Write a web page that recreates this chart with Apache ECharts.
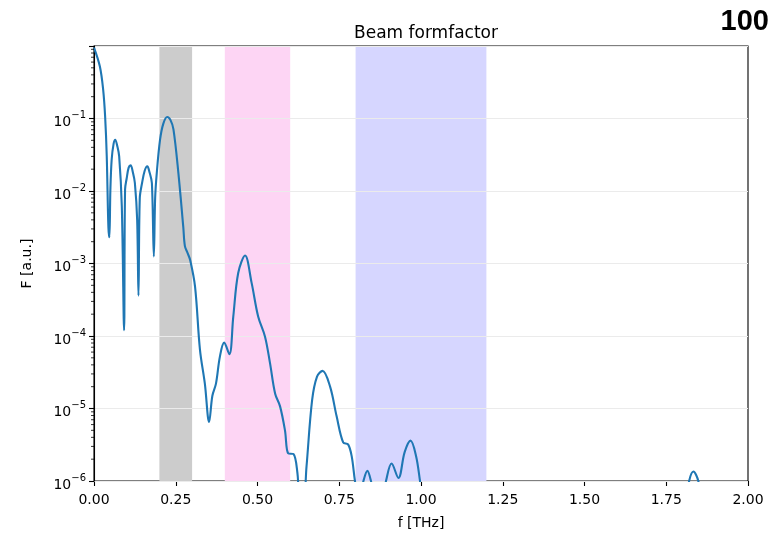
<!DOCTYPE html>
<html><head><meta charset="utf-8">
<script src="https://cdn.jsdelivr.net/npm/echarts@6/dist/echarts.min.js"></script>
<style>html,body{margin:0;padding:0;background:#fff}#c{width:771px;height:536px}</style>
</head><body><div id="c"></div>
<script>
const freq = [0, 0.018, 0.028, 0.034, 0.039, 0.044, 0.047, 0.050, 0.054, 0.060, 0.065, 0.071, 0.077, 0.085, 0.092, 0.095, 0.100, 0.106, 0.112, 0.119, 0.125, 0.132, 0.136, 0.140, 0.147, 0.155, 0.163, 0.170, 0.177, 0.183, 0.187, 0.192, 0.202, 0.212, 0.224, 0.234, 0.243, 0.258, 0.273, 0.278, 0.286, 0.294, 0.309, 0.324, 0.339, 0.352, 0.362, 0.373, 0.385, 0.398, 0.414, 0.426, 0.441, 0.462, 0.482, 0.502, 0.523, 0.538, 0.554, 0.569, 0.584, 0.594, 0.610, 0.622, 0.630, 0.640, 0.650, 0.667, 0.682, 0.699, 0.722, 0.742, 0.762, 0.777, 0.788, 0.798, 0.810, 0.824, 0.836, 0.847, 0.860, 0.880, 0.893, 0.910, 0.931, 0.950, 0.968, 0.985, 0.997, 1.010, 1.200, 1.500, 1.800, 1.820, 1.833, 1.848, 1.860, 2.000];
const formfactor = [0.95, 0.52, 0.25, 0.107, 0.030, 3.2e-3, 2.3e-3, 0.010, 0.027, 0.045, 0.051, 0.042, 0.030, 6.2e-3, 1.2e-4, 0.0105, 0.015, 0.021, 0.0226, 0.018, 0.0129, 4e-3, 3.6e-4, 8e-3, 0.0129, 0.019, 0.0219, 0.018, 0.0129, 1.25e-3, 8e-3, 0.0178, 0.051, 0.085, 0.105, 0.095, 0.071, 0.0178, 3.2e-3, 1.74e-3, 1.4e-3, 1.12e-3, 4.8e-4, 6.5e-5, 2.2e-5, 6.5e-6, 1.5e-5, 2.2e-5, 5.2e-5, 8.1e-5, 5.6e-5, 1.86e-4, 7.4e-4, 1.29e-3, 5.4e-4, 1.86e-4, 9.8e-5, 4.3e-5, 1.6e-5, 1.07e-5, 5e-6, 2.4e-6, 2.35e-6, 1.3e-6, 5e-7, 5e-7, 1.6e-6, 1.3e-5, 2.75e-5, 3.3e-5, 2e-5, 7.8e-6, 3.4e-6, 3.2e-6, 2.2e-6, 1e-6, 5e-7, 1e-6, 1.38e-6, 1e-6, 5e-7, 5e-7, 1e-6, 1.74e-6, 1.1e-6, 2.5e-6, 3.6e-6, 2.2e-6, 1e-6, 4e-7, 3e-7, 3e-7, 3e-7, 1e-6, 1.35e-6, 1e-6, 4e-7, 3e-7];
const bands = [[0.2, 0.3, '#cccccc'], [0.4, 0.6, '#fdd5f4'], [0.8, 1.2, '#d6d6ff']];
const minorTicks = [];
for (let e = -6; e <= -1; e++) for (let m = 2; m <= 9; m++) minorTicks.push(m * Math.pow(10, e));
const titleText = 'Beam formfactor';
const cornerText = '100';

const font = 'DejaVu Sans';
const chart = echarts.init(document.getElementById('c'), null, {renderer: 'canvas'});
chart.setOption({
  animation: false,
  backgroundColor: '#fff',
  title: {text: titleText, left: 421, top: 20, textAlign: 'center',
    textStyle: {fontFamily: font, fontSize: 17, fontWeight: 'normal', color: '#000'}},
  graphic: [{type: 'text', right: 2, top: 7, style: {text: cornerText, font: 'bold 29px "Liberation Sans", Arial, sans-serif', fill: '#000'}}],
  grid: {left: 94, right: 23, top: 46, bottom: 55, show: true, borderColor: '#000', borderWidth: 1.1, backgroundColor: 'transparent'},
  xAxis: {type: 'value', min: 0, max: 2, interval: 0.25,
    name: 'f [THz]', nameLocation: 'middle', nameGap: 35,
    nameTextStyle: {fontFamily: font, fontSize: 14, color: '#000'},
    axisLine: {show: true, lineStyle: {color: '#000', width: 1.1}},
    axisTick: {show: true, length: 5, lineStyle: {color: '#000', width: 1.1}},
    axisLabel: {fontFamily: font, fontSize: 14, color: '#000', margin: 12, formatter: v => v.toFixed(2)},
    splitLine: {show: false}},
  yAxis: {type: 'log', logBase: 10, min: 1e-6, max: 1, z: 1.5,
    name: 'F [a.u.]', nameLocation: 'middle', nameGap: 60,
    nameTextStyle: {fontFamily: font, fontSize: 14, color: '#000'},
    axisLine: {show: true, lineStyle: {color: '#000', width: 1.1}},
    axisTick: {show: true, length: 5, lineStyle: {color: '#000', width: 1.1}},
    axisLabel: {fontFamily: font, color: '#000', margin: 8,
      formatter: v => { const e = Math.round(Math.log10(v)); if (e >= 0) return ''; return '{b|10}{s|\u2212' + (-e) + '}'; },
      rich: {b: {fontFamily: font, fontSize: 14, color: '#000', padding: [8, 0, 0, 0]}, s: {fontFamily: font, fontSize: 10, color: '#000', padding: [0, 0, 6, 0]}}},
    splitLine: {show: true, lineStyle: {color: '#ebebeb', width: 1}}},
  series: [
    {type: 'line', z: 1, data: [], silent: true,
      markArea: {silent: true, data: bands.map(b => [{xAxis: b[0], itemStyle: {color: b[2], opacity: 1}}, {xAxis: b[1]}])}},
    {type: 'line', z: 3, data: freq.map((f, i) => [f, formfactor[i]]), showSymbol: false, smooth: 0.35, clip: true,
      lineStyle: {color: '#1f77b4', width: 2.1}},
    {type: 'custom', z: 4, silent: true, clip: false, data: minorTicks.map(v => [0, v]),
      renderItem: (params, api) => { const p = api.coord([0, api.value(1)]); return {type: 'line', shape: {x1: p[0], y1: p[1], x2: p[0] - 3, y2: p[1]}, style: {stroke: '#000', lineWidth: 0.8}}; }}
  ]
});
</script></body></html>
